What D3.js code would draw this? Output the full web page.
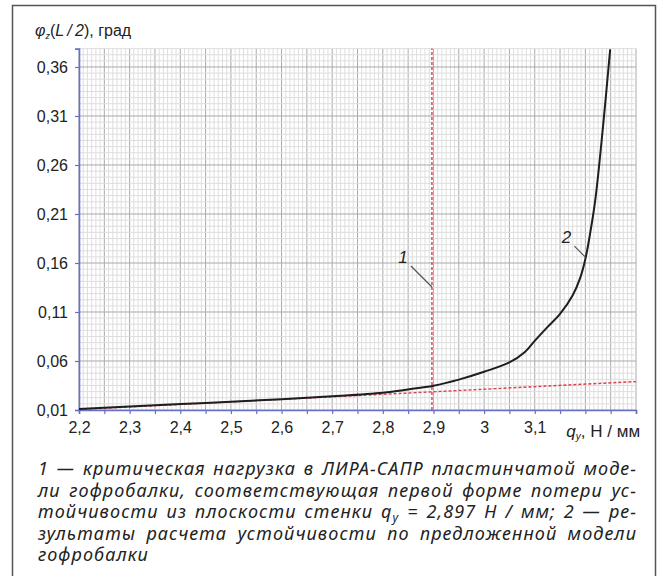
<!DOCTYPE html>
<html lang="ru">
<head>
<meta charset="utf-8">
<title>phi_z(L/2)</title>
<script src="https://d3js.org/d3.v7.min.js"></script>
<style>
  body { margin: 0; background: #fff; }
  text { font-family: "Liberation Sans", Arial, sans-serif; fill: #222; }
  .caption text { font-family: "Noto Sans", sans-serif; font-style: italic; letter-spacing: 1.1px; }
</style>
</head>
<body>
<script>

// load q_y, N/mm  vs  twist angle phi_z(L/2), deg  (curve 2)
var qLoad    = [2.2, 2.3, 2.4, 2.5, 2.6, 2.7, 2.8, 2.85, 2.9, 2.95, 3.0, 3.05, 3.08, 3.1, 3.125, 3.15, 3.175, 3.19, 3.2, 3.21, 3.22, 3.235, 3.249];
var phiTwist = [0.011, 0.0135, 0.016, 0.0185, 0.021, 0.024, 0.0277, 0.031, 0.0348, 0.041, 0.049, 0.0585, 0.069, 0.0805, 0.0945, 0.108, 0.127, 0.145, 0.164, 0.192, 0.226, 0.3, 0.378];

// linear part (red dashed)
var qLinear   = [2.2, 3.3];
var phiLinear = [0.0105, 0.039];

// critical load from LIRA-SAPR (curve 1)
var qCritical = 2.897;

var xLabelValues = [2.2, 2.3, 2.4, 2.5, 2.6, 2.7, 2.8, 2.9, 3.0, 3.1];
var yTickValues  = [0.01, 0.06, 0.11, 0.16, 0.21, 0.26, 0.31, 0.36];

var captionLines = [
  [["1 — критическая нагрузка в ЛИРА-САПР пластинчатой моде-"]],
  [["ли гофробалки, соответствующая первой форме потери ус-"]],
  [["тойчивости из плоскости стенки "], ["q"], ["y", "sub"], [" = 2,897 Н / мм; 2 — ре-", "back"]],
  [["зультаты расчета устойчивости по предложенной модели"]],
  [["гофробалки"]]
];

var width = 660,
    height = 576;

var svg = d3.select("body").append("svg")
  .attr("width", width)
  .attr("height", height);

// frame
svg.append("rect")
  .attr("x", 12.5).attr("y", 5.5)
  .attr("width", 643).attr("height", 580)
  .attr("fill", "none")
  .attr("stroke", "#555")
  .attr("stroke-width", 1.5);

var x = d3.scaleLinear().domain([2.2, 3.3]).range([79, 636]);
var y = d3.scaleLinear().domain([0.01, 0.37875]).range([410, 48.6]);

// grid
var grid = svg.append("g");
var xMinor = d3.range(0, 133).map(function(i) { return 2.2 + i * 0.05 / 6; });
var yMinor = d3.range(0, 60).map(function(i) { return 0.01 + i * 0.05 / 8; });

grid.selectAll(".vx").data(xMinor).enter().append("line")
  .attr("x1", function(d) { return x(d); })
  .attr("x2", function(d) { return x(d); })
  .attr("y1", y.range()[0]).attr("y2", y.range()[1])
  .attr("stroke", function(d, i) { return i % 6 == 0 ? "#a9a9a9" : "#dedede"; })
  .attr("stroke-width", 1);

grid.selectAll(".hy").data(yMinor).enter().append("line")
  .attr("y1", function(d) { return y(d); })
  .attr("y2", function(d) { return y(d); })
  .attr("x1", x.range()[0]).attr("x2", x.range()[1])
  .attr("stroke", function(d, i) { return i % 8 == 0 ? "#a9a9a9" : "#dedede"; })
  .attr("stroke-width", 1);

// axes
var comma = function(d) { return d3.format(".2f")(d).replace(".", ","); };

var yAxis = svg.append("g")
  .attr("transform", "translate(" + x.range()[0] + ",0)")
  .call(d3.axisLeft(y).tickValues(yTickValues).tickSize(4).tickPadding(7).tickFormat(comma));

var xTicks = d3.range(0, 23).map(function(i) { return +(2.2 + i * 0.05).toFixed(2); });
var xAxis = svg.append("g")
  .attr("transform", "translate(0," + y.range()[0] + ")")
  .call(d3.axisBottom(x).tickValues(xTicks).tickSize(4).tickPadding(8)
    .tickFormat(function(d) {
      return xLabelValues.indexOf(d) >= 0 ? String(d).replace(".", ",") : "";
    }));

[yAxis, xAxis].forEach(function(a) {
  a.select(".domain").attr("stroke", "#6670c8").attr("stroke-width", 1.6);
  a.selectAll(".tick line").attr("stroke", "#6670c8").attr("stroke-width", 1.2);
  a.selectAll(".tick text")
    .attr("font-family", "Liberation Sans, Arial, sans-serif")
    .attr("font-size", 16).attr("fill", "#222");
});
yAxis.selectAll(".tick text").attr("dy", "0.36em");

// linear (red dashed)
svg.append("path")
  .datum(d3.zip(qLinear, phiLinear))
  .attr("fill", "none")
  .attr("stroke", "#d8404a")
  .attr("stroke-width", 1.4)
  .attr("stroke-dasharray", "3,2")
  .attr("d", d3.line().x(function(d) { return x(d[0]); }).y(function(d) { return y(d[1]); }));

// critical load (red dashed vertical)
svg.append("line")
  .attr("x1", x(qCritical)).attr("x2", x(qCritical))
  .attr("y1", y.range()[0]).attr("y2", y.range()[1])
  .attr("stroke", "#d8404a")
  .attr("stroke-width", 1.4)
  .attr("stroke-dasharray", "3,2");

// curve 2
svg.append("path")
  .datum(d3.zip(qLoad, phiTwist))
  .attr("fill", "none")
  .attr("stroke", "#1e1e1e")
  .attr("stroke-width", 2)
  .attr("d", d3.line().curve(d3.curveCatmullRom.alpha(0.5))
    .x(function(d) { return x(d[0]); }).y(function(d) { return y(d[1]); }));

// leaders + numbers
var leaders = [
  { n: "1", q: qCritical, phi: 0.1355, dx: -21, dy: -21 },
  { n: "2", q: 3.2, phi: 0.166, dx: -11, dy: -11 }
];
leaders.forEach(function(l) {
  var px = x(l.q), py = y(l.phi);
  svg.append("line")
    .attr("x1", px).attr("y1", py)
    .attr("x2", px + l.dx).attr("y2", py + l.dy)
    .attr("stroke", "#555").attr("stroke-width", 1.2);
  svg.append("text")
    .attr("x", px + l.dx - 8).attr("y", py + l.dy - 3)
    .attr("text-anchor", "middle")
    .attr("font-size", 17).attr("font-style", "italic")
    .text(l.n);
});

// axis titles
var yTitle = svg.append("text").attr("x", 35).attr("y", 36).attr("font-size", 16);
yTitle.append("tspan").attr("font-style", "italic").text("φ");
yTitle.append("tspan").attr("font-style", "italic").attr("font-size", 9).attr("dy", 3).text("z");
yTitle.append("tspan").attr("dy", -3).text("(");
yTitle.append("tspan").attr("font-style", "italic").text("L\u2009/\u20092");
yTitle.append("tspan").text("), град");

var xTitle = svg.append("text").attr("x", x(3.2) - 19).attr("y", y.range()[0] + 27).attr("font-size", 17);
xTitle.append("tspan").attr("font-style", "italic").text("q");
xTitle.append("tspan").attr("font-style", "italic").attr("font-size", 10).attr("dy", 3).text("y");
xTitle.append("tspan").attr("dy", -3).text(", Н / мм");

// caption, justified
var cap = svg.append("g").attr("class", "caption");
var capLeft = 38, capRight = 637, capTop = 475, capStep = 21.5;
captionLines.forEach(function(segs, i) {
  var t = cap.append("text")
    .attr("x", capLeft).attr("y", capTop + i * capStep)
    .attr("font-size", 18);
  segs.forEach(function(s) {
    var ts = t.append("tspan").text(s[0]);
    if (s[1] == "sub") ts.attr("font-size", 12).attr("dy", 4);
    if (s[1] == "back") ts.attr("dy", -4);
  });
  if (i < captionLines.length - 1) {
    var w = t.node().getComputedTextLength();
    var gaps = segs.map(function(s) { return s[0]; }).join("").split(" ").length - 1;
    t.style("word-spacing", ((capRight - capLeft - w) / gaps) + "px");
  }
});

</script>
</body>
</html>
